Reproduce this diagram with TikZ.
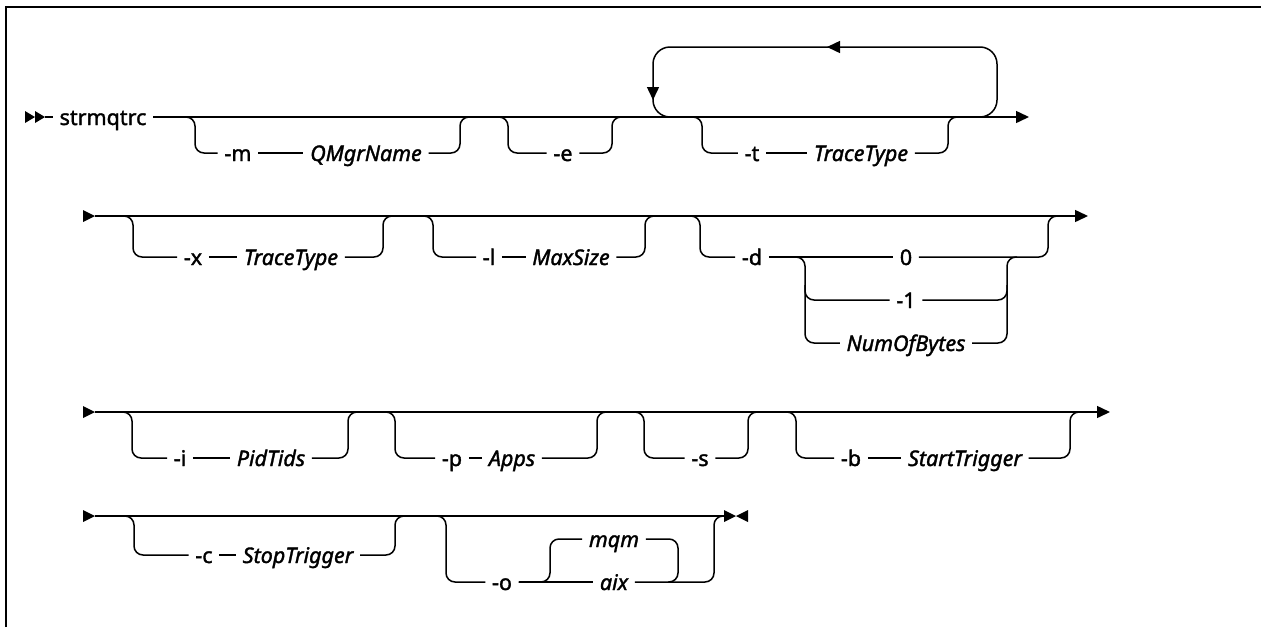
\documentclass[tikz,border=0pt]{standalone}
\usepackage{fontspec}
\setmainfont{Noto Sans}[FakeBold=1.6]
\usetikzlibrary{arrows.meta}
\tikzset{every path/.style={line width=1.5pt}}
\tikzset{
  rail/.style={rounded corners=9pt},
  loop/.style={rounded corners=17pt},
  kw/.style={inner xsep=6pt, inner ysep=0pt, text height=18pt, text depth=2pt,
    font=\fontsize{21.5}{24}\selectfont},
  var/.style={kw, font=\fontsize{21.5}{24}\selectfont\itshape},
  tip/.style={-{Triangle[length=13pt,width=12pt]}}
}

\begin{document}
\begin{tikzpicture}[x=1pt,y=-1pt]
    \useasboundingbox (0,0) rectangle (1261,627);
    \draw[line width=2pt] (6,627) -- (6,7) -- (1261,7);

    % row 1
    \fill (25,111) -- (35,117) -- (25,123) -- cycle;
    \fill (35,111) -- (45,117) -- (35,123) -- cycle;
    \coordinate (r1s) at (45,117);
    \coordinate (r1e) at (1029,117);
    \node[kw] (cmd) at (103,117) {strmqtrc};
    \draw (r1s) -- (cmd.west);
    \draw[tip] (cmd.east) -- (r1e);

    \node[kw] (m) at (238,153) {-m};
    \node[var] (qmgr) at (366,153) {QMgrName};
    \draw[rail] (185,117) -- (195,117) -- (195,153) -- (m.west);
    \draw (m.east) -- (qmgr.west);
    \draw[rail] (qmgr.east) -- (460,153) -- (460,117) -- (470,117);

    \node[kw] (e) at (563,153) {-e};
    \draw[rail] (498,117) -- (508,117) -- (508,153) -- (e.west);
    \draw[rail] (e.east) -- (612,153) -- (612,117) -- (622,117);

    \draw[loop,tip] (975,117) -- (997,117) -- (997,47) -- (827,47);
    \draw[loop,tip] (830,47) -- (653,47) -- (653,100);
    \draw[loop] (653,98) -- (653,117) -- (680,117);

    \node[kw] (t) at (752,153) {-t};
    \node[var] (ttype1) at (861,153) {TraceType};
    \draw[rail] (692,117) -- (702,117) -- (702,153) -- (t.west);
    \draw (t.east) -- (ttype1.west);
    \draw[rail] (ttype1.east) -- (948,153) -- (948,117) -- (958,117);

    % row 2
    \fill (83,210) -- (95,216) -- (83,222) -- cycle;
    \coordinate (r2s) at (95,216);
    \coordinate (r2e) at (1088,216);
    \draw[tip] (r2s) -- (r2e);

    \node[kw] (x) at (193,257) {-x};
    \node[var] (ttype2) at (291,257) {TraceType};
    \draw[rail] (123,216) -- (133,216) -- (133,257) -- (x.west);
    \draw (x.east) -- (ttype2.west);
    \draw[rail] (ttype2.east) -- (383,257) -- (383,216) -- (393,216);

    \node[kw] (l) at (489,257) {-l};
    \node[var] (maxsize) at (571,257) {MaxSize};
    \draw[rail] (423,216) -- (433,216) -- (433,257) -- (l.west);
    \draw (l.east) -- (maxsize.west);
    \draw[rail] (maxsize.east) -- (645,257) -- (645,216) -- (655,216);

    \node[kw] (d) at (752,257) {-d};
    \node[kw] (zero) at (906,257) {0};
    \node[kw] (minusone) at (906,300) {-1};
    \node[var] (nbytes) at (906,343) {NumOfBytes};
    \draw[rail] (690,216) -- (700,216) -- (700,257) -- (d.west);
    \draw (d.east) -- (zero.west);
    \draw[rail] (zero.east) -- (1048,257) -- (1048,216) -- (1058,216);
    \draw[rail] (795,257) -- (805,257) -- (805,343) -- (nbytes.west);
    \draw[rail] (805,285) -- (805,300) -- (minusone.west);
    \draw[rail] (nbytes.east) -- (1007,343) -- (1007,257) -- (1017,257);
    \draw[rail] (minusone.east) -- (1007,300) -- (1007,285);

    % row 3
    \fill (83,406) -- (95,412) -- (83,418) -- cycle;
    \coordinate (r3s) at (95,412);
    \coordinate (r3e) at (1110,412);
    \draw[tip] (r3s) -- (r3e);

    \node[kw] (i) at (180,458) {-i};
    \node[var] (pidtids) at (271,458) {PidTids};
    \draw[rail] (122,412) -- (132,412) -- (132,458) -- (i.west);
    \draw (i.east) -- (pidtids.west);
    \draw[rail] (pidtids.east) -- (348,458) -- (348,412) -- (358,412);

    \node[kw] (p) at (452,458) {-p};
    \node[var] (apps) at (512,458) {Apps};
    \draw[rail] (385,412) -- (395,412) -- (395,458) -- (p.west);
    \draw (p.east) -- (apps.west);
    \draw[rail] (apps.east) -- (597,458) -- (597,412) -- (607,412);

    \node[kw] (s) at (700,458) {-s};
    \draw[rail] (634,412) -- (644,412) -- (644,458) -- (s.west);
    \draw[rail] (s.east) -- (748,458) -- (748,412) -- (758,412);

    \node[kw] (b) at (851,458) {-b};
    \node[var] (start) at (965,458) {StartTrigger};
    \draw[rail] (786,412) -- (796,412) -- (796,458) -- (b.west);
    \draw (b.east) -- (start.west);
    \draw[rail] (start.east) -- (1070,458) -- (1070,412) -- (1080,412);

    % row 4
    \fill (83,510) -- (95,516) -- (83,522) -- cycle;
    \coordinate (r4s) at (95,516);
    \coordinate (r4e) at (724,516);
    \draw (r4s) -- (r4e);
    \fill (724,510) -- (736,516) -- (724,522) -- cycle;
    \fill (748,510) -- (736,516) -- (748,522) -- cycle;

    \node[kw] (c) at (204,555) {-c};
    \node[var] (stop) at (298,555) {StopTrigger};
    \draw[rail] (124,516) -- (134,516) -- (134,555) -- (c.west);
    \draw (c.east) -- (stop.west);
    \draw[rail] (stop.east) -- (395,555) -- (395,516) -- (405,516);

    \node[kw] (o) at (502,582) {-o};
    \node[var] (mqm) at (614,539) {mqm};
    \node[var] (aix) at (614,582) {aix};
    \draw[rail] (436,516) -- (446,516) -- (446,582) -- (o.west);
    \draw (o.east) -- (aix.west);
    \draw[rail] (o.east) -- (550,582) -- (550,539) -- (mqm.west);
    \draw[rail] (mqm.east) -- (678,539) -- (678,582) -- (668,582);
    \draw[rail] (aix.east) -- (714,582) -- (714,516) -- (724,516);
\end{tikzpicture}
\end{document}
